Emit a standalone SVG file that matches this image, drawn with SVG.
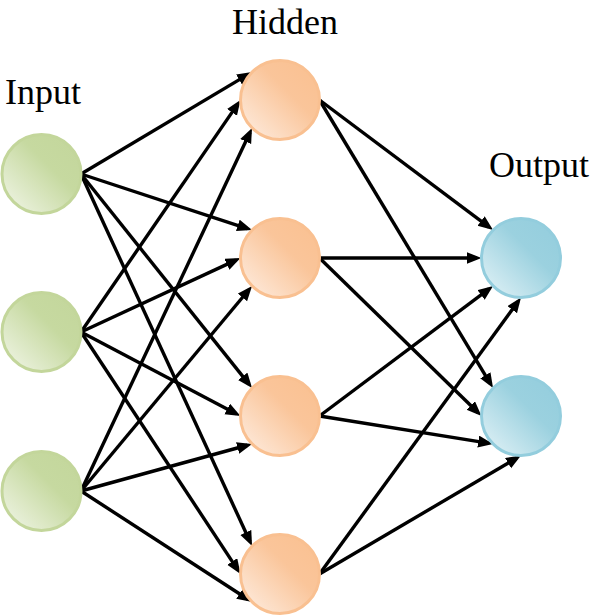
<svg xmlns="http://www.w3.org/2000/svg" width="594" height="616" viewBox="0 0 594 616">
<style>
.lbl{font-family:"Liberation Serif","Times New Roman",serif;font-size:36px;fill:#000}
.edge{stroke:#000;stroke-width:3.4;fill:none;marker-end:url(#ah)}
.in{fill:url(#gIn);stroke:#c3d69b;stroke-width:3}
.hid{fill:url(#gHid);stroke:#f9c091;stroke-width:3}
.out{fill:url(#gOut);stroke:#93cddd;stroke-width:3}
</style>
<defs>
<marker id="ah" markerUnits="userSpaceOnUse" markerWidth="16" markerHeight="13" refX="10" refY="6" orient="auto" viewBox="0 0 16 13">
<path d="M0,0 L15,6 L0,12 z" fill="#000"/>
</marker>
<linearGradient id="gIn" x1="0" y1="1" x2="1" y2="0">
<stop offset="0" stop-color="#f3f7eb"/><stop offset="0.6" stop-color="#c6d9a0"/><stop offset="1" stop-color="#c3d69b"/>
</linearGradient>
<linearGradient id="gHid" x1="0" y1="1" x2="1" y2="0">
<stop offset="0" stop-color="#feefe4"/><stop offset="0.6" stop-color="#fac59a"/><stop offset="1" stop-color="#fac090"/>
</linearGradient>
<linearGradient id="gOut" x1="0" y1="1" x2="1" y2="0">
<stop offset="0" stop-color="#e6f4f8"/><stop offset="0.6" stop-color="#9bd1df"/><stop offset="1" stop-color="#93cddd"/>
</linearGradient>
</defs>
<g id="labels">
<text class="lbl" x="5" y="104">Input</text>
<text class="lbl" x="232" y="34">Hidden</text>
<text class="lbl" x="489" y="177">Output</text>
</g>
<g id="connectors">
<line class="edge" x1="81" y1="174" x2="247.77" y2="74.63"/>
<line class="edge" x1="81" y1="332" x2="237.67" y2="104.12"/>
<line class="edge" x1="81" y1="491" x2="249.94" y2="132.45"/>
<line class="edge" x1="81" y1="174" x2="247.32" y2="228.51"/>
<line class="edge" x1="81" y1="332" x2="235.96" y2="260.10"/>
<line class="edge" x1="81" y1="491" x2="248.87" y2="289.77"/>
<line class="edge" x1="81" y1="174" x2="248.95" y2="384.16"/>
<line class="edge" x1="81" y1="332" x2="236.08" y2="413.67"/>
<line class="edge" x1="81" y1="491" x2="247.25" y2="445.26"/>
<line class="edge" x1="81" y1="174" x2="249.98" y2="541.53"/>
<line class="edge" x1="81" y1="332" x2="237.75" y2="569.82"/>
<line class="edge" x1="81" y1="491" x2="247.87" y2="599.21"/>
<line class="edge" x1="319.5" y1="100" x2="489.07" y2="227.07"/>
<line class="edge" x1="319.5" y1="100" x2="490.49" y2="383.79"/>
<line class="edge" x1="319.5" y1="258" x2="476.5" y2="258"/>
<line class="edge" x1="319.5" y1="258" x2="477.92" y2="412.51"/>
<line class="edge" x1="319.5" y1="416" x2="489.07" y2="288.93"/>
<line class="edge" x1="319.5" y1="416" x2="488.13" y2="443.14"/>
<line class="edge" x1="319.5" y1="574" x2="518.05" y2="301.54"/>
<line class="edge" x1="319.5" y1="574" x2="516.69" y2="458.03"/>
</g>
<g id="input1"><circle class="in" cx="41.5" cy="174" r="39.5"/></g>
<g id="input2"><circle class="in" cx="41.5" cy="332" r="39.5"/></g>
<g id="input3"><circle class="in" cx="41.5" cy="491" r="39.5"/></g>
<g id="hidden1"><circle class="hid" cx="280" cy="100" r="39.5"/></g>
<g id="hidden2"><circle class="hid" cx="280" cy="258" r="39.5"/></g>
<g id="hidden3"><circle class="hid" cx="280" cy="416" r="39.5"/></g>
<g id="hidden4"><circle class="hid" cx="280" cy="574" r="39.5"/></g>
<g id="output1"><circle class="out" cx="521" cy="258" r="39.5"/></g>
<g id="output2"><circle class="out" cx="521" cy="416" r="39.5"/></g>
</svg>
